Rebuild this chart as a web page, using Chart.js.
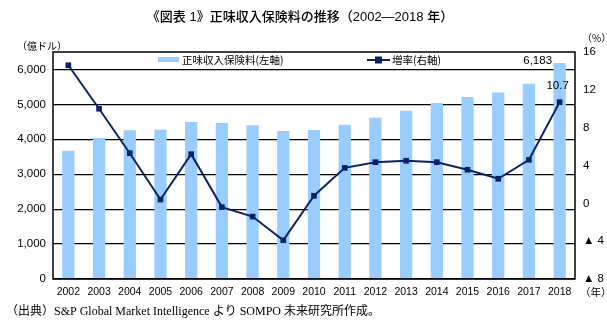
<!DOCTYPE html>
<html>
<head>
<meta charset="utf-8">
<script src="https://cdn.jsdelivr.net/npm/chart.js@4.4.1/dist/chart.umd.min.js"></script>
<style>
  html, body { margin: 0; padding: 0; background: #fff; }
  #wrap { width: 607px; height: 324px; position: relative; }
</style>
</head>
<body>
<div id="wrap"><canvas id="chart" width="607" height="324"></canvas></div>
<script>
const years = ["2002", "2003", "2004", "2005", "2006", "2007", "2008", "2009", "2010",
    "2011", "2012", "2013", "2014", "2015", "2016", "2017", "2018"];
// 正味収入保険料 (億ドル)
const premiums = [3674, 4037, 4257, 4274, 4494, 4466, 4400, 4237, 4266,
    4417, 4617, 4817, 5037, 5209, 5343, 5589, 6183];
// 増率 (%)
const growth = [14.6, 10.0, 5.3, 0.4, 5.2, -0.4, -1.4, -3.9, 0.8,
    3.75, 4.35, 4.5, 4.35, 3.55, 2.6, 4.6, 10.7];
const leftTicks = [0, 1000, 2000, 3000, 4000, 5000, 6000];
const rightTicks = [-8, -4, 0, 4, 8, 12, 16];

const barColor = "#99ccff";
const lineColor = "#0b2365";
const sansFont = "'Liberation Sans', Arial, 'Noto Sans CJK JP', sans-serif";

const decorations = {
    id: "decorations",
    afterDraw(chart) {
        const ctx = chart.ctx;
        const a = chart.chartArea;
        ctx.save();
        // frame
        ctx.strokeStyle = "#000";
        ctx.lineWidth = 1.5;
        ctx.strokeRect(a.left, a.top, a.right - a.left, a.bottom - a.top);

        // title
        ctx.fillStyle = "#000";
        ctx.textBaseline = "middle";
        ctx.textAlign = "center";
        ctx.font = "500 13px 'Liberation Sans', 'Noto Sans CJK JP', sans-serif";
        ctx.fillText("《図表 1》正味収入保険料の推移（2002—2018 年）", 300, 17);

        // unit labels
        ctx.font = "10px 'Noto Sans CJK JP', sans-serif";
        ctx.textAlign = "left";
        ctx.fillText("（億ドル）", 17, 46);
        ctx.fillText("（%）", 582, 38);
        ctx.font = "10.5px 'Noto Sans CJK JP', sans-serif";
        ctx.fillText("（年）", 580, 292);

        // legend
        ctx.fillStyle = barColor;
        ctx.fillRect(158, 57, 21, 5);
        ctx.strokeStyle = lineColor;
        ctx.lineWidth = 2;
        ctx.beginPath();
        ctx.moveTo(367, 60);
        ctx.lineTo(390, 60);
        ctx.stroke();
        ctx.fillStyle = lineColor;
        ctx.fillRect(375, 56.5, 7, 7);
        ctx.fillStyle = "#000";
        ctx.font = "10.5px 'Noto Sans CJK JP', sans-serif";
        ctx.fillText("正味収入保険料(左軸)", 182, 60);
        ctx.fillText("増率(右軸)", 392, 60);

        // data labels for 2018
        const last = years.length - 1;
        const bar = chart.getDatasetMeta(1).data[last];
        const pt = chart.getDatasetMeta(0).data[last];
        ctx.font = "11.5px " + sansFont;
        ctx.textAlign = "center";
        ctx.textBaseline = "bottom";
        ctx.fillText(premiums[last].toLocaleString("en-US"), bar.x - 22, bar.y + 4);
        ctx.fillText(growth[last].toFixed(1), pt.x - 2, pt.y - 11);

        // source
        ctx.textAlign = "left";
        ctx.textBaseline = "middle";
        ctx.font = "12px 'Liberation Serif', 'Noto Sans CJK JP', serif";
        ctx.fillText("（出典）S&P Global Market Intelligence より SOMPO 未来研究所作成。", 6, 312);
        ctx.restore();
    }
};

new Chart(document.getElementById("chart"), {
    type: "bar",
    data: {
        labels: years,
        datasets: [
            {
                type: "line",
                label: "増率(右軸)",
                data: growth,
                yAxisID: "y1",
                borderColor: lineColor,
                backgroundColor: lineColor,
                borderWidth: 2,
                pointStyle: "rect",
                pointRadius: 4,
                pointBackgroundColor: lineColor,
                pointBorderWidth: 0,
                tension: 0,
                order: 0
            },
            {
                label: "正味収入保険料(左軸)",
                data: premiums,
                yAxisID: "y",
                backgroundColor: barColor,
                barPercentage: 0.4,
                categoryPercentage: 1.0,
                order: 1
            }
        ]
    },
    options: {
        responsive: false,
        animation: false,
        layout: { padding: { top: 52, left: 0, right: 0, bottom: 0 } },
        plugins: {
            legend: { display: false },
            tooltip: { enabled: false }
        },
        scales: {
            x: {
                grid: { display: false, drawTicks: false },
                border: { display: false },
                ticks: { color: "#000", font: { size: 10.5, family: sansFont }, padding: 7, maxRotation: 0 },
                afterFit(s) { s.height = 45; }
            },
            y: {
                position: "left",
                min: 0,
                max: 6500,
                afterBuildTicks(s) { s.ticks = leftTicks.map(v => ({ value: v })); },
                grid: { color: "#000", lineWidth: 1.3, drawTicks: false },
                border: { display: false },
                ticks: {
                    color: "#000",
                    font: { size: 11.5, family: sansFont },
                    padding: 7,
                    callback: v => v.toLocaleString("en-US")
                },
                afterFit(s) { s.width = 53; }
            },
            y1: {
                position: "right",
                min: -8,
                max: 16,
                afterBuildTicks(s) { s.ticks = rightTicks.map(v => ({ value: v })); },
                grid: { display: false, drawTicks: false },
                border: { display: false },
                ticks: {
                    color: "#000",
                    font: { size: 11.5, family: sansFont },
                    padding: 8,
                    callback: v => v < 0 ? "▲ " + Math.abs(v) : String(v)
                },
                afterFit(s) { s.width = 32; }
            }
        }
    },
    plugins: [decorations]
});
</script>
</body>
</html>
